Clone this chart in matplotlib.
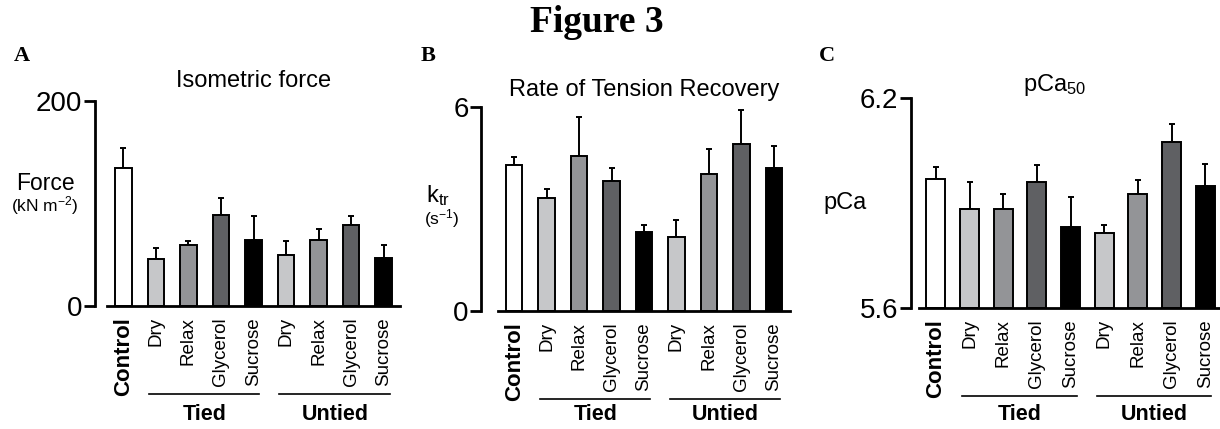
import numpy as np
import matplotlib
matplotlib.use('Agg')
import matplotlib.pyplot as plt
from matplotlib.transforms import blended_transform_factory

plt.rcParams['font.family'] = ['Liberation Sans', 'DejaVu Sans']
plt.rcParams['mathtext.fontset'] = 'custom'
plt.rcParams['mathtext.rm'] = 'Liberation Sans'
plt.rcParams['mathtext.it'] = 'Liberation Sans:italic'
plt.rcParams['mathtext.bf'] = 'Liberation Sans:bold'

# categories
labels = ['Control', 'Dry', 'Relax', 'Glycerol', 'Sucrose',
          'Dry', 'Relax', 'Glycerol', 'Sucrose']
groups = ['Tied', 'Untied']
colors = ['white', '#c6c7c9', '#939497', '#5f6063', 'black',
          '#c6c7c9', '#939497', '#5f6063', 'black']

# A: isometric force (kN m-2), mean and upper error
force = [135, 46, 60, 89, 64, 49.5, 64.5, 79, 47]
force_err = [19.5, 10.5, 3.3, 16, 24, 13.7, 10.4, 9, 13]

# B: ktr (s-1)
ktr = [4.28, 3.33, 4.57, 3.82, 2.32, 2.19, 4.02, 4.91, 4.21]
ktr_err = [0.24, 0.25, 1.15, 0.39, 0.22, 0.50, 0.74, 1.01, 0.63]

# C: pCa50
pca = [5.970, 5.882, 5.884, 5.961, 5.832, 5.814, 5.927, 6.075, 5.949]
pca_err = [0.033, 0.078, 0.041, 0.048, 0.085, 0.022, 0.039, 0.052, 0.062]

W, H = 1220, 429
fig = plt.figure(figsize=(W / 100, H / 100), dpi=100)


def px_axes(x0, x1, ytop, ybot):
    # pixel box (from top-left) -> figure fraction
    return fig.add_axes([x0 / W, 1 - ybot / H, (x1 - x0) / W, (ybot - ytop) / H])


def panel(ax, vals, errs, ylim, yticks, yticklabels, width, spine_off, grp_off):
    x = np.arange(len(vals))
    ax.bar(x, np.array(vals) - ylim[0], width, bottom=ylim[0], color=colors,
           edgecolor='black', linewidth=1.4, zorder=2)
    ax.errorbar(x, vals, yerr=[np.zeros(len(errs)), errs], fmt='none',
                ecolor='black', elinewidth=1.4, capsize=2.5, capthick=1.4, zorder=1)
    ax.set_xlim(-0.5, 8.5)
    ax.set_ylim(*ylim)
    ax.spines['top'].set_visible(False)
    ax.spines['right'].set_visible(False)
    ax.spines['left'].set_position(('outward', spine_off))
    ax.spines['left'].set_linewidth(2)
    ax.spines['bottom'].set_linewidth(2)
    ax.tick_params(axis='y', length=8, width=2, pad=1, labelsize=20)
    ax.tick_params(axis='x', length=0, pad=8)
    ax.set_yticks(yticks)
    ax.set_yticklabels(yticklabels)
    ax.set_xticks(x)
    ax.set_xticklabels(labels, rotation=90, va='top', ha='center', fontsize=13.5)
    ax.get_xticklabels()[0].set_fontweight('bold')
    ax.get_xticklabels()[0].set_fontsize(16)
    ax.patch.set_alpha(0)

    # group lines and labels under the tick labels
    hpx = ax.get_position().height * H
    tr = blended_transform_factory(ax.transData, ax.transAxes)
    for g, (a, b) in zip(groups, [(1, 4), (5, 8)]):
        ax.plot([a - 0.21, b + 0.18], [-88 / hpx, -88 / hpx], color='black',
                lw=1.2, transform=tr, clip_on=False)
        ax.text((a + b) / 2, -grp_off / hpx, g, transform=tr, ha='center',
                va='center', fontsize=15.5, fontweight='bold')


axA = px_axes(107, 400, 101, 306)
panel(axA, force, force_err, (0, 200), [0, 200], ['0', '200'], 0.51, 9, 108)
axA.set_title('Isometric force', fontsize=17, pad=10)

axB = px_axes(498, 790, 107, 311)
panel(axB, ktr, ktr_err, (0, 6), [0, 6], ['0', '6'], 0.51, 12, 104)
axB.set_title('Rate of Tension Recovery', fontsize=17, pad=8)

axC = px_axes(919, 1222, 98, 308)
panel(axC, pca, pca_err, (5.6, 6.2), [5.6, 6.2], ['5.6', '6.2'], 0.56, 6, 106)

# pCa50 title sits left of the axes centre in the reference
fig.text(1055 / W, 1 - 85 / H, 'pCa$_{50}$', fontsize=17, ha='center', va='center')

# y-axis labels, horizontal text left of the axes
fig.text(45 / W, 1 - 183 / H, 'Force', fontsize=16.5, ha='center', va='center')
fig.text(45 / W, 1 - 206 / H, '(kN m$^{-2}$)', fontsize=12.5, ha='center', va='center')
fig.text(438 / W, 1 - 196 / H, 'k$_{\\mathrm{tr}}$', fontsize=17, ha='center', va='center')
fig.text(442 / W, 1 - 219 / H, '(s$^{-1}$)', fontsize=12.5, ha='center', va='center')
fig.text(845 / W, 1 - 203 / H, 'pCa', fontsize=17, ha='center', va='center')

# figure title and panel letters
fig.text(597 / W, 1 - 22 / H, 'Figure 3', fontsize=27, fontweight='bold',
         family='Liberation Serif', ha='center', va='center')
for lab, xp, yp in [('A', 22, 56), ('B', 428, 56), ('C', 827, 56)]:
    fig.text(xp / W, 1 - yp / H, lab, fontsize=16, fontweight='bold',
             family='Liberation Serif', ha='center', va='center')

fig.savefig('out.png', dpi=100)
